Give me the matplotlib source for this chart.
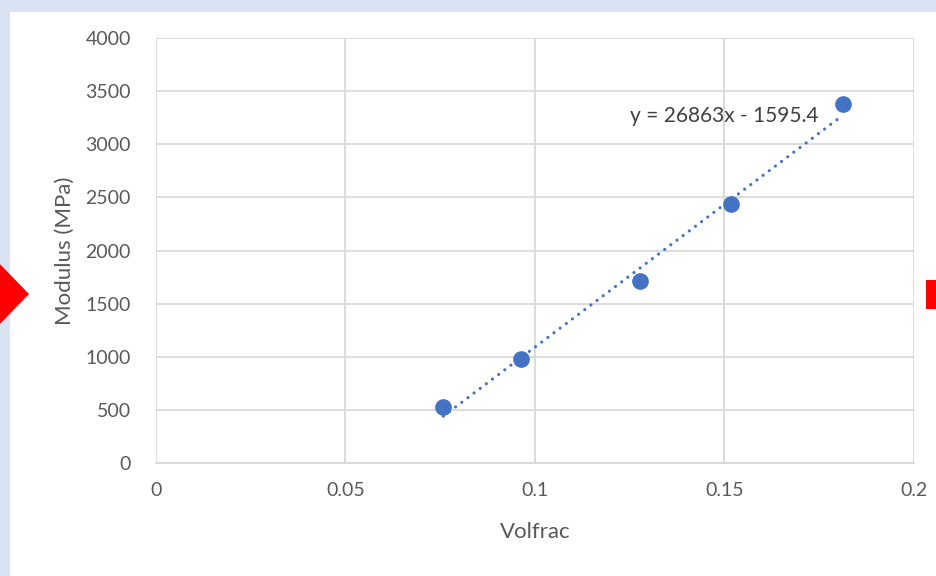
import matplotlib.pyplot as plt
import numpy as np
from matplotlib.patches import Polygon, Rectangle

# data
volfrac = [0.0758, 0.0963, 0.1278, 0.1517, 0.1812]
modulus = [530, 976, 1713, 2435, 3376]
slope, intercept = 26863, -1595.4
x_ticks = [0, 0.05, 0.1, 0.15, 0.2]
x_tick_labels = ['0', '0.05', '0.1', '0.15', '0.2']
y_ticks = [0, 500, 1000, 1500, 2000, 2500, 3000, 3500, 4000]

plt.rcParams['font.family'] = ['Lato', 'DejaVu Sans']

W, H = 937, 576
fig = plt.figure(figsize=(W / 100, H / 100), dpi=100)
fig.patch.set_facecolor('#dae3f3')

# white sheet behind the chart, plus the red bits at the edges
fig.patches.append(Rectangle((10 / W, 0), 1, (H - 12) / H, transform=fig.transFigure,
                             facecolor='white', edgecolor='none', zorder=-2))
fig.patches.append(Polygon([(-40 / W, 1 - 294 / H), (-6 / W, 1 - 258 / H), (29 / W, 1 - 294 / H),
                            (-6 / W, 1 - 330 / H)], closed=True, transform=fig.transFigure,
                           facecolor='#ff0000', edgecolor='none', zorder=-1))
fig.patches.append(Rectangle((926 / W, 1 - 309 / H), 12 / W, 29 / H, transform=fig.transFigure,
                             facecolor='#ff0000', edgecolor='none', zorder=-1))

ax = fig.add_axes([156 / W, 113 / H, 758 / W, 425 / H])
ax.set_facecolor('none')

xs = np.array([min(volfrac), max(volfrac)])
ax.plot(xs, slope * xs + intercept, linestyle=(0, (0.01, 2.4)), dash_capstyle='round',
        color='#4472c4', linewidth=2.3, zorder=3)
ax.plot(volfrac, modulus, 'o', color='#4472c4', markersize=11, zorder=4)

ax.text(0.1747, 3266, 'y = 26863x - 1595.4', ha='right', va='center', fontsize=15, color='#404040')

ax.set_xlim(0, 0.2)
ax.set_ylim(0, 4000)
ax.set_xticks(x_ticks)
ax.set_xticklabels(x_tick_labels)
ax.set_yticks(y_ticks)
ax.grid(True, color='#d9d9d9', linewidth=1.3)
ax.set_axisbelow(True)
for side in ['top', 'right', 'left']:
    ax.spines[side].set_visible(False)
ax.spines['bottom'].set_color('#d9d9d9')
ax.spines['bottom'].set_linewidth(1.3)
ax.tick_params(axis='y', length=0, labelsize=14, labelcolor='#595959', pad=18)
ax.tick_params(axis='x', length=0, labelsize=14, labelcolor='#595959', pad=14)

ax.set_xlabel('Volfrac', fontsize=16, color='#595959', labelpad=16)
ax.set_ylabel('Modulus (MPa)', fontsize=16, color='#595959', labelpad=8)

fig.savefig('out.png', dpi=100, facecolor=fig.get_facecolor())
